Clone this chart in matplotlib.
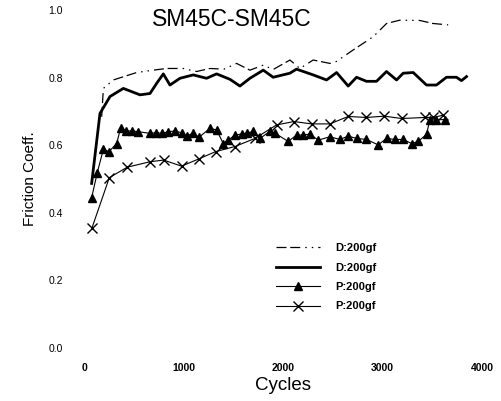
import numpy as np
import matplotlib.pyplot as plt

plt.rcParams['font.family'] = ['Liberation Sans', 'DejaVu Sans']

# D:200gf, dash-dot-dot line
dd_x = [168, 185, 285, 520, 688, 822, 990, 1124, 1259, 1400, 1527, 1662, 1796, 1896, 2065,
        2165, 2299, 2467, 2535, 2703, 2904, 3038, 3173, 3374, 3508, 3659]
dd_y = [0.684, 0.768, 0.793, 0.815, 0.822, 0.827, 0.827, 0.818, 0.827, 0.825, 0.842, 0.822,
        0.837, 0.824, 0.852, 0.827, 0.852, 0.842, 0.848, 0.882, 0.921, 0.960, 0.970, 0.969,
        0.960, 0.956]

# D:200gf, thick solid line
ds_x = [67, 151, 252, 386, 554, 655, 722, 789, 856, 957, 1091, 1225, 1326, 1460, 1561, 1662,
        1796, 1896, 2064, 2131, 2299, 2434, 2535, 2652, 2736, 2836, 2937, 3038, 3139, 3206,
        3307, 3441, 3541, 3642, 3743, 3793, 3844]
ds_y = [0.487, 0.694, 0.744, 0.768, 0.749, 0.753, 0.783, 0.811, 0.778, 0.798, 0.808, 0.798,
        0.811, 0.795, 0.775, 0.798, 0.822, 0.801, 0.813, 0.825, 0.808, 0.793, 0.815, 0.775,
        0.801, 0.789, 0.789, 0.818, 0.793, 0.813, 0.815, 0.778, 0.778, 0.801, 0.801, 0.791,
        0.803]

# P:200gf, triangles
pt_x = [67, 124, 185, 242, 319, 360, 413, 471, 537, 655, 715, 773, 839, 906, 973, 1024, 1084,
        1151, 1259, 1326, 1393, 1444, 1510, 1578, 1628, 1695, 1763, 1863, 1913, 2047, 2131,
        2198, 2266, 2350, 2467, 2568, 2652, 2736, 2836, 2954, 3038, 3122, 3206, 3290, 3357,
        3441, 3474, 3541, 3625]
pt_y = [0.445, 0.519, 0.588, 0.581, 0.605, 0.652, 0.642, 0.642, 0.640, 0.635, 0.637, 0.635,
        0.640, 0.642, 0.637, 0.627, 0.635, 0.624, 0.650, 0.645, 0.605, 0.615, 0.630, 0.633,
        0.635, 0.641, 0.620, 0.641, 0.636, 0.611, 0.630, 0.630, 0.633, 0.615, 0.625, 0.617,
        0.627, 0.620, 0.617, 0.601, 0.620, 0.617, 0.617, 0.605, 0.611, 0.632, 0.675, 0.675,
        0.676]

# P:200gf, crosses
px_x = [70, 245, 426, 655, 792, 973, 1151, 1316, 1510, 1712, 1930, 2105, 2283, 2467, 2652,
        2836, 3015, 3189, 3424, 3508, 3610]
px_y = [0.355, 0.504, 0.535, 0.551, 0.556, 0.538, 0.560, 0.581, 0.596, 0.620, 0.660, 0.670,
        0.663, 0.663, 0.685, 0.682, 0.686, 0.679, 0.682, 0.682, 0.689]

labels = ['D:200gf', 'D:200gf', 'P:200gf', 'P:200gf']
xticks = [0, 1000, 2000, 3000, 4000]
yticks = [0.0, 0.2, 0.4, 0.6, 0.8, 1.0]

fig = plt.figure(figsize=(5.01, 4.01), dpi=100)
ax = fig.add_axes([85/501, 53/401, 397/501, 338/401])

ax.plot(dd_x, dd_y, color='black', lw=0.9, linestyle=(0, (8, 3, 8, 4, 1.2, 4, 1.2, 4)), label=labels[0])
ax.plot(ds_x, ds_y, color='black', lw=2.0, label=labels[1])
ax.plot(pt_x, pt_y, color='black', lw=0.8, marker='^', ms=5.5, label=labels[2])
ax.plot(px_x, px_y, color='black', lw=0.8, marker='x', ms=7, mew=1.0, label=labels[3])

ax.set_xlim(0, 4000)
ax.set_ylim(0, 1.0)
ax.set_xticks(xticks)
ax.set_xticklabels([str(t) for t in xticks], fontsize=7.5, fontweight='bold')
ax.set_yticks(yticks)
ax.set_yticklabels(['%.1f' % t for t in yticks], fontsize=7.5)
ax.tick_params(axis='x', length=0, pad=11)
ax.tick_params(axis='y', length=0, pad=16)
for s in ax.spines.values():
    s.set_visible(False)

fig.text(232/501, 1 - 26/401, 'SM45C-SM45C', fontsize=16.5, ha='center', va='baseline')
fig.text(283/501, 1 - 390/401, 'Cycles', fontsize=13.5, ha='center', va='baseline')
ax.set_ylabel('Friction Coeff.', fontsize=11, labelpad=8)

leg = ax.legend(loc='upper left', bbox_to_anchor=(0.455, 0.34), frameon=False,
                prop={'size': 8, 'weight': 'bold'}, handlelength=4, handletextpad=1.4,
                labelspacing=0.85)

fig.savefig('out.png', dpi=100)
